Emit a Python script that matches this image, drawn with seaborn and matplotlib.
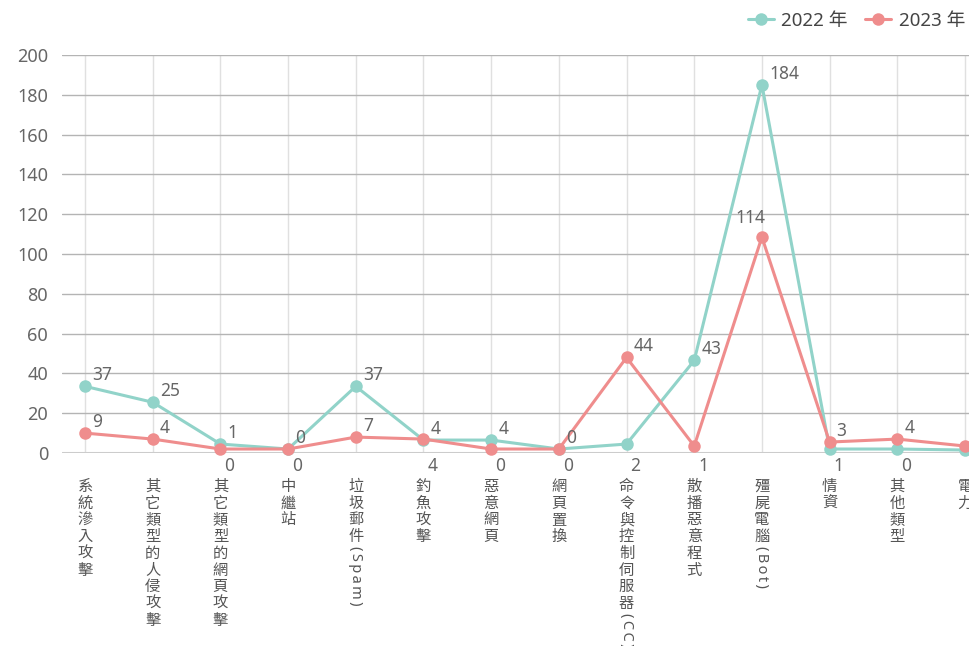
import matplotlib
matplotlib.use("Agg")
import matplotlib.pyplot as plt
from matplotlib import transforms
from matplotlib.lines import Line2D
import seaborn as sns
import pandas as pd
import numpy as np

categories = [
    "系統滲入攻擊", "其它類型的人侵攻擊", "其它類型的網頁攻擊", "中繼站",
    "垃圾郵件(Spam)", "釣魚攻擊", "惡意網頁", "網頁置換",
    "命令與控制伺服器(CC)", "散播惡意程式", "殭屍電腦(Bot)", "情資",
    "其他類型", "電力",
]
years = ["2022 年", "2023 年"]
# point heights as drawn in the picture
points_2022 = [33.5, 25.5, 4.5, 2, 33.5, 6.5, 6.5, 2, 4.5, 46.5, 185, 2, 2, 1.5]
points_2023 = [10, 7, 2, 2, 8, 7, 2, 2, 48, 3.5, 108.5, 5.5, 7, 3.5]
# value labels printed next to the points
labels_2022 = [37, 25, 1, 0, 37, 4, 4, 0, 2, 43, 184, 1, 0, 0]
labels_2023 = [9, 4, 0, 0, 7, 4, 0, 0, 44, 1, 114, 3, 4, 1]

colors = {"2022 年": "#91d3c9", "2023 年": "#ef8d8d"}

df = pd.DataFrame({
    "idx": list(range(len(categories))) * 2,
    "value": points_2022 + points_2023,
    "year": [years[0]] * len(categories) + [years[1]] * len(categories),
})

sns.set_theme(style="white")
plt.rcParams["font.family"] = ["Noto Sans", "Noto Sans CJK TC", "DejaVu Sans"]

fig = plt.figure(figsize=(9.7, 6.46), dpi=100)
ax = fig.add_axes([62 / 970, 193 / 646, 926 / 970, 398 / 646])

ax.set_xlim(-0.34, len(categories) - 1 + 0.34)
ax.set_ylim(0, 200)
ax.set_yticks(np.arange(0, 201, 20))
ax.set_xticks(range(len(categories)))
ax.set_xticklabels([])
ax.tick_params(axis="both", length=0)
ax.tick_params(axis="y", labelsize=13, labelcolor="#666666", pad=10)
for s in ax.spines.values():
    s.set_visible(False)
ax.grid(axis="y", color="#b4b4b4", linewidth=1)
ax.grid(axis="x", color="#e0e0e0", linewidth=1)
ax.axhline(0, color="#cccccc", linewidth=2.2, zorder=1)

sns.lineplot(
    data=df, x="idx", y="value", hue="year", palette=colors, marker="o",
    markersize=9, markeredgewidth=0, linewidth=2.2, legend=False,
    clip_on=False, ax=ax, zorder=3,
)
ax.set_xlabel("")
ax.set_ylabel("")

# value labels
lab_kw = dict(textcoords="offset pixels", fontsize=12.5, color="#666666",
              va="center", annotation_clip=False)
for i in range(len(categories)):
    pts = [points_2022[i], points_2023[i]]
    labs = [labels_2022[i], labels_2023[i]]
    hi = 0 if labels_2022[i] >= labels_2023[i] else 1
    lo = 1 - hi
    ax.annotate(str(labs[hi]), (i, pts[hi]), xytext=(7, 11), ha="left", **lab_kw)
    gap = abs(pts[hi] - pts[lo])
    if pts[lo] < 6 or gap < 2:
        ax.annotate(str(labs[lo]), (i, 0), xytext=(4, -13), ha="left", **lab_kw)
    elif pts[lo] > 100:
        ax.annotate(str(labs[lo]), (i, pts[lo]), xytext=(3, 19), ha="right", **lab_kw)
    else:
        ax.annotate(str(labs[lo]), (i, pts[lo]), xytext=(7, 11), ha="left", **lab_kw)

# vertical category labels: CJK chars stacked upright, latin part rotated
step = 16.7
top = -25
cjk_font = ["Noto Sans CJK TC", "DejaVu Sans"]
xax = ax.get_xaxis_transform()
for i, name in enumerate(categories):
    cjk, sep, latin = name.partition("(")
    for k, ch in enumerate(cjk):
        tr = transforms.offset_copy(xax, fig=fig, x=0, y=top - k * step, units="dots")
        ax.text(i, 0, ch, transform=tr, ha="center", va="top", fontsize=11,
                color="#555555", family=cjk_font, clip_on=False)
    if sep:
        tr2 = transforms.offset_copy(xax, fig=fig, x=0,
                                     y=top - step * len(cjk) - 1, units="dots")
        spaced = "\u2009".join("(" + latin)
        ax.text(i, 0, spaced, transform=tr2, ha="center", va="top",
                rotation=-90, fontsize=10.5, color="#555555", clip_on=False)

handles = [
    Line2D([0], [0], color=colors[y], marker="o", markersize=9,
           markeredgewidth=0, linewidth=2.2)
    for y in years
]
leg = fig.legend(handles, years, loc="upper right",
                 bbox_to_anchor=(965 / 970, 1 - 12 / 646),
                 ncol=2, frameon=False, fontsize=13.5, handlelength=1.4,
                 columnspacing=0.9, handletextpad=0.4, borderaxespad=0,
                 borderpad=0)
for t in leg.get_texts():
    t.set_color("#444444")

fig.savefig("out.png", dpi=100)
